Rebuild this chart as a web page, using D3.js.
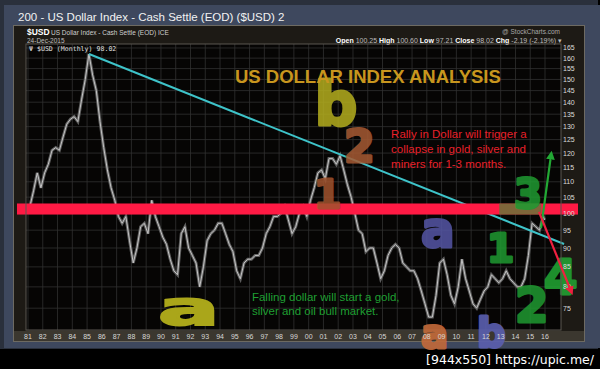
<!DOCTYPE html>
<meta charset="utf-8">
<script src="https://d3js.org/d3.v7.min.js"></script>
<style>
  body { margin: 0; background: #000; }
  svg { display: block; }
</style>
<div id="chart"></div>
<script>

// $USD quarterly closes, 1981 Q1 .. 2015 Q4
const usdQuarterly = [
  102, 107, 113, 108,   // 1981
  113, 116, 121, 122,   // 1982
  121, 126, 131, 133,   // 1983
  134, 132, 141, 150,   // 1984
  162, 152, 145, 132,   // 1985
  122, 114, 108, 104,   // 1986
  99, 97, 99, 92,       // 1987
  86, 90, 96, 97,       // 1988
  94, 104, 99, 96,      // 1989
  93, 91, 87, 84,       // 1990
  83, 94, 96, 90,       // 1991
  88, 86, 80, 85,       // 1992
  92, 94, 95, 97,       // 1993
  97, 94, 91, 89,       // 1994
  84, 82, 86, 87,       // 1995
  87, 88, 88, 90,       // 1996
  94, 96, 99, 99,       // 1997
  100, 102, 98, 94,     // 1998
  96, 100, 102, 99,     // 1999
  104, 108, 113, 114,   // 2000
  111, 118, 118, 116,   // 2001
  119, 114, 109, 105,   // 2002
  100, 95, 94, 89,      // 2003
  90, 90, 86, 82,       // 2004
  84, 88, 90, 91,       // 2005
  90, 86, 85, 84,       // 2006
  84, 82, 79, 76,       // 2007
  73, 73, 78, 86,       // 2008
  87, 83, 78, 76,       // 2009
  80, 87, 82, 79,       // 2010
  76, 75, 77, 79,       // 2011
  80, 83, 82, 81,       // 2012
  82, 84, 82, 81,       // 2013
  80, 80, 82, 88,       // 2014
  97, 96, 95, 99        // 2015
];
const firstYear = 1981;
const lastClose = 98.02;

const yearTicks = [1981, 1982, 1983, 1984, 1985, 1986, 1987, 1988, 1989, 1990,
  1991, 1992, 1993, 1994, 1995, 1996, 1997, 1998, 1999, 2000, 2001, 2002, 2003,
  2004, 2005, 2006, 2007, 2008, 2009, 2010, 2011, 2012, 2013, 2014, 2015, 2016];
const priceTicks = [75, 80, 85, 90, 95, 100, 105, 110, 115, 120, 125, 130, 135,
  140, 145, 150, 155, 160, 165];

// resistance zone and trend line (year / price)
const resistance = [99.6, 103];
const trendStart = [1985.13, 162];
const trendEnd = [2017.29, 91.1];

const W = 600, H = 369;
const plot = {left: 26, right: 561, top: 44, bottom: 330};

const svg = d3.select("#chart").append("svg")
  .attr("width", W).attr("height", H);

// panels
svg.append("rect").attr("width", W).attr("height", H).attr("fill", "#000");
svg.append("rect").attr("width", 598).attr("height", 349).attr("fill", "#2a303c");
svg.append("rect").attr("x", 4).attr("y", 5).attr("width", 596).attr("height", 343)
  .attr("fill", "#3e485e");
svg.append("rect").attr("x", 13.5).attr("y", 25.5).attr("width", 571).attr("height", 316)
  .attr("fill", "#1d1a15").attr("stroke", "#6d6a62");

svg.append("text").attr("x", 18).attr("y", 21)
  .attr("font-family", "Liberation Sans, Arial").attr("font-size", 11.5)
  .attr("fill", "#f2f2f2")
  .text("200 - US Dollar Index - Cash Settle (EOD) ($USD) 2");

// scales
const x = d3.scaleLinear().domain([1981, 2016]).range([28, 545]);
const y = d3.scaleLog().domain([70.2, 167]).range([plot.bottom, plot.top]);

svg.append("rect")
  .attr("x", plot.left).attr("y", plot.top)
  .attr("width", plot.right - plot.left).attr("height", plot.bottom - plot.top)
  .attr("fill", "#060504");

// grid
const grid = svg.append("g").attr("stroke", "#313131").attr("stroke-width", 0.8);
grid.selectAll("line.v").data(yearTicks).join("line")
  .attr("x1", d => x(d)).attr("x2", d => x(d))
  .attr("y1", plot.top).attr("y2", plot.bottom);
grid.selectAll("line.h").data(priceTicks).join("line")
  .attr("x1", plot.left).attr("x2", plot.right)
  .attr("y1", d => y(d)).attr("y2", d => y(d));

// header texts
const hdr = svg.append("g").attr("font-family", "Liberation Sans, Arial");
hdr.append("text").attr("x", 27).attr("y", 35).attr("font-size", 8.5)
  .attr("font-weight", "bold").attr("fill", "#fff").text("$USD");
hdr.append("text").attr("x", 51).attr("y", 35).attr("font-size", 6.5)
  .attr("fill", "#cfcfcf").text("US Dollar Index - Cash Settle (EOD)  ICE");
hdr.append("text").attr("x", 27).attr("y", 42.5).attr("font-size", 6.5)
  .attr("fill", "#bdbdbd").text("24-Dec-2015");
hdr.append("text").attr("x", 560).attr("y", 34).attr("text-anchor", "end")
  .attr("font-size", 6.5).attr("fill", "#a8a8a8").text("@ StockCharts.com");
const ohlc = hdr.append("text").attr("x", 562).attr("y", 42.5)
  .attr("text-anchor", "end").attr("font-size", 7);
[["Open", "100.25"], ["High", "100.60"], ["Low", "97.21"], ["Close", "98.02"],
 ["Chg", "-2.19 (-2.19%) \u25BE"]].forEach(([k, v]) => {
  ohlc.append("tspan").attr("font-weight", "bold").attr("fill", "#fff").text(k + " ");
  ohlc.append("tspan").attr("fill", "#bdbdbd").text(v + "  ");
});
svg.append("text").attr("x", 29).attr("y", 51)
  .attr("font-family", "DejaVu Sans Mono").attr("font-size", 6.6)
  .attr("fill", "#e0e0e0").text("\u03A8 $USD (Monthly) " + lastClose.toFixed(2));

// price line
const pts = usdQuarterly.map((v, i) => [firstYear + i / 4 + 0.125, v]);
pts.push([2015.98, lastClose]);
const line = d3.line().x(d => x(d[0])).y(d => y(d[1]));
svg.append("path").datum(pts).attr("d", line)
  .attr("fill", "none").attr("stroke", "#5e5e5e").attr("stroke-width", 3);
svg.append("path").datum(pts).attr("d", line)
  .attr("fill", "none").attr("stroke", "#c4c4c4").attr("stroke-width", 1);

// trend line
svg.append("line")
  .attr("x1", x(trendStart[0])).attr("y1", y(trendStart[1]))
  .attr("x2", x(trendEnd[0])).attr("y2", y(trendEnd[1]))
  .attr("stroke", "#3ec3c9").attr("stroke-width", 2);

// resistance band
svg.append("rect")
  .attr("x", 17).attr("width", 578 - 17)
  .attr("y", y(resistance[1])).attr("height", y(resistance[0]) - y(resistance[1]))
  .attr("fill", "#ff1a44");
// green smear over the band near 2013-2015
svg.append("rect")
  .attr("x", x(2012.9)).attr("width", x(2015.75) - x(2012.9))
  .attr("y", y(resistance[1])).attr("height", y(resistance[0]) - y(resistance[1]))
  .attr("fill", "#2a9a34").attr("opacity", 0.6);

// hand drawn marks, in year / price
const marks = [
  {t: "b", yr: 2000.4, v: 130.6, size: 60, c: "#b4ae1e"},
  {t: "2", yr: 2002.39, v: 116.8, size: 44, c: "#a65a33"},
  {t: "1", yr: 2000.36, v: 101.6, size: 39, c: "#a0532e"},
  {t: "a", yr: 2007.61, v: 90.3, size: 50, c: "#5556a5"},
  {t: "3", yr: 2013.9, v: 101.6, size: 40, c: "#1f9a31"},
  {t: "1", yr: 2012.07, v: 86.3, size: 39, c: "#1f9a31"},
  {t: "2", yr: 2013.97, v: 71.9, size: 48, c: "#1f9a31"},
  {t: "4", yr: 2015.93, v: 78.3, size: 48, c: "#22a834"}
];
svg.append("g").selectAll("text").data(marks).join("text")
  .attr("x", d => x(d.yr)).attr("y", d => y(d.v))
  .attr("font-family", "DejaVu Sans").attr("font-weight", "bold")
  .attr("font-size", d => d.size)
  .attr("fill", d => d.c).attr("stroke", d => d.c).attr("stroke-width", 3)
  .attr("stroke-linejoin", "round").attr("opacity", 0.85)
  .text(d => d.t);

// the flat yellow "a"
svg.append("text")
  .attr("transform", `translate(${x(1989.8)},${y(71.3)}) scale(1.9,1)`)
  .attr("font-family", "DejaVu Sans").attr("font-weight", "bold")
  .attr("font-size", 48).attr("fill", "#aaa61a").attr("stroke", "#aaa61a")
  .attr("stroke-width", 2).text("a");

// annotation texts
const note = svg.append("g").attr("font-family", "Liberation Sans, Arial");
note.append("text").attr("x", x(1995.01)).attr("y", y(148.4))
  .attr("font-size", 18.5).attr("font-weight", "bold").attr("fill", "#c8961e")
  .text("US DOLLAR INDEX ANALYSIS");
["Rally in Dollar will trigger a", "collapse in gold, silver and",
 "miners for 1-3 months."].forEach((s, i) => {
  note.append("text").attr("x", x(2005.58)).attr("y", y(125.5) + i * 15)
    .attr("font-size", 11.5).attr("fill", "#e8202a").text(s);
});
["Falling dollar will start a gold,", "silver and oil bull market."].forEach((s, i) => {
  note.append("text").attr("x", x(1996.16)).attr("y", y(76.7) + i * 14)
    .attr("font-size", 11.5).attr("fill", "#1f9f32").text(s);
});

// plot frame + axes
svg.append("rect")
  .attr("x", plot.left).attr("y", plot.top)
  .attr("width", plot.right - plot.left).attr("height", plot.bottom - plot.top)
  .attr("fill", "none").attr("stroke", "#5a5650");
svg.append("rect").attr("x", 14).attr("y", plot.bottom + 1).attr("width", 570).attr("height", 10)
  .attr("fill", "#3b372f");

// marks sitting on the axis strip
const lowMarks = [
  {t: "b", yr: 2011.4, v: 66.7, size: 40, c: "#5b5fb0"},
  {t: "a", yr: 2007.61, v: 66.5, size: 40, c: "#c46a3a"}
];
svg.append("g").selectAll("text").data(lowMarks).join("text")
  .attr("x", d => x(d.yr)).attr("y", d => y(d.v))
  .attr("font-family", "DejaVu Sans").attr("font-weight", "bold")
  .attr("font-size", d => d.size)
  .attr("fill", d => d.c).attr("stroke", d => d.c).attr("stroke-width", 3)
  .attr("stroke-linejoin", "round").attr("opacity", 0.9)
  .text(d => d.t);

svg.append("g").selectAll("text").data(yearTicks).join("text")
  .attr("x", d => x(d)).attr("y", plot.bottom + 8.5)
  .attr("text-anchor", "middle").attr("font-family", "Liberation Sans, Arial")
  .attr("font-size", 7).attr("fill", "#d6d6d6")
  .text(d => String(d).slice(2));

svg.append("g").selectAll("text").data(priceTicks).join("text")
  .attr("x", 563).attr("y", d => y(d) + 2.5)
  .attr("font-family", "Liberation Sans, Arial")
  .attr("font-size", 7).attr("fill", "#dcdcdc")
  .text(d => d);

// arrows
const defs = svg.append("defs");
[["upHead", "#22a834"], ["downHead", "#ee2040"]].forEach(([id, c]) => {
  defs.append("marker").attr("id", id).attr("viewBox", "0 0 10 10")
    .attr("refX", 5).attr("refY", 5).attr("markerWidth", 4).attr("markerHeight", 4)
    .attr("orient", "auto")
    .append("path").attr("d", "M0,0L10,5L0,10Z").attr("fill", c);
});
svg.append("line")
  .attr("x1", x(2015.73)).attr("y1", y(95.6)).attr("x2", x(2016.41)).attr("y2", y(119.3))
  .attr("stroke", "#22a834").attr("stroke-width", 2.2).attr("marker-end", "url(#upHead)");
svg.append("line")
  .attr("x1", x(2015.59)).attr("y1", y(100.4)).attr("x2", x(2017.76)).attr("y2", y(79))
  .attr("stroke", "#ee2040").attr("stroke-width", 2.2).attr("marker-end", "url(#downHead)");

// footer
svg.append("text").attr("x", 594).attr("y", 364).attr("text-anchor", "end")
  .attr("font-family", "DejaVu Sans").attr("font-size", 12.5).attr("fill", "#fff")
  .text("[944x550] https://upic.me/");

</script>
